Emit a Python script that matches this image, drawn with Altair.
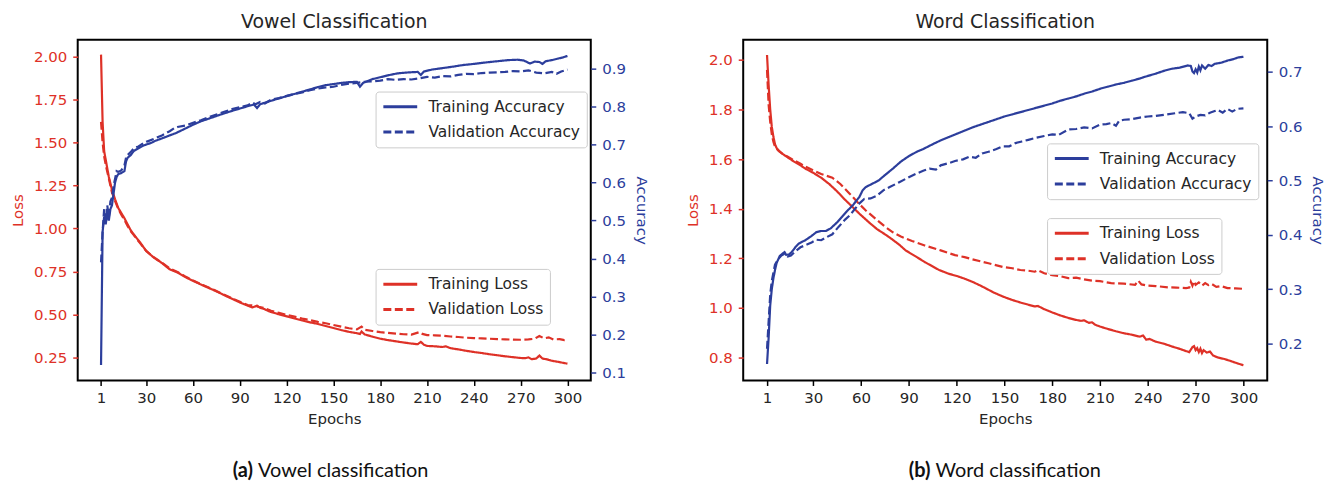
import altair as alt
import pandas as pd

RED = "#de3127"
BLUE = "#2c3e9c"
FONT = "DejaVu Sans"
TXT = "#262626"

EPOCH_TICKS = [1, 30, 60, 90, 120, 150, 180, 210, 240, 270, 300]

# ---------------- Vowel classification ----------------
v_tl_ep = [1, 2, 3, 4, 5, 6, 8, 10, 12, 14, 16, 18, 20, 23, 26, 30, 35, 40, 45, 50, 55, 60, 65, 70, 75, 80, 85, 90, 95, 98, 100, 101, 103, 105, 108, 110, 115, 120, 125, 130, 135, 140, 145, 150, 155, 160, 165, 167, 168, 170, 175, 180, 185, 190, 195, 200, 204, 206, 208, 210, 215, 220, 222, 225, 230, 235, 240, 245, 250, 255, 260, 265, 270, 273, 275, 277, 280, 282, 284, 287, 290, 295, 300]
v_tl = [2.01, 1.62, 1.45, 1.40, 1.35, 1.30, 1.225, 1.17, 1.12, 1.09, 1.06, 1.025, 0.99, 0.954, 0.92, 0.869, 0.83, 0.80, 0.763, 0.745, 0.718, 0.696, 0.675, 0.655, 0.635, 0.613, 0.592, 0.571, 0.552, 0.542, 0.548, 0.552, 0.540, 0.535, 0.522, 0.515, 0.502, 0.49, 0.478, 0.466, 0.455, 0.446, 0.434, 0.422, 0.41, 0.40, 0.392, 0.388, 0.402, 0.385, 0.372, 0.36, 0.352, 0.345, 0.338, 0.332, 0.328, 0.342, 0.325, 0.318, 0.316, 0.312, 0.316, 0.305, 0.298, 0.29, 0.283, 0.277, 0.27, 0.264, 0.258, 0.253, 0.248, 0.247, 0.252, 0.241, 0.245, 0.262, 0.245, 0.24, 0.232, 0.224, 0.215]

v_vl_ep = [1, 2, 3, 4, 5, 6, 8, 10, 12, 14, 16, 18, 20, 23, 26, 30, 35, 40, 45, 50, 55, 60, 65, 70, 75, 80, 85, 90, 95, 100, 102, 105, 110, 115, 120, 125, 130, 135, 140, 145, 150, 155, 160, 165, 168, 170, 175, 180, 185, 190, 195, 200, 205, 207, 210, 215, 220, 225, 230, 235, 240, 245, 250, 255, 260, 265, 270, 275, 279, 282, 285, 288, 291, 295, 298, 300]
v_vl = [1.62, 1.50, 1.42, 1.37, 1.33, 1.29, 1.21, 1.16, 1.115, 1.08, 1.05, 1.015, 0.985, 0.95, 0.915, 0.87, 0.832, 0.802, 0.768, 0.748, 0.722, 0.698, 0.677, 0.657, 0.637, 0.615, 0.595, 0.575, 0.556, 0.552, 0.545, 0.54, 0.522, 0.51, 0.499, 0.488, 0.477, 0.468, 0.458, 0.45, 0.44, 0.43, 0.421, 0.414, 0.43, 0.412, 0.405, 0.398, 0.394, 0.39, 0.386, 0.384, 0.398, 0.388, 0.381, 0.38, 0.377, 0.373, 0.37, 0.366, 0.364, 0.362, 0.36, 0.358, 0.356, 0.355, 0.354, 0.356, 0.36, 0.376, 0.362, 0.368, 0.356, 0.358, 0.352, 0.354]

v_ta_ep = [1, 2, 3, 4, 5, 6, 7, 8, 9, 10, 11, 12, 14, 16, 17, 18, 20, 22, 25, 28, 30, 33, 36, 40, 45, 49, 55, 60, 65, 70, 75, 80, 87, 92, 96, 99, 101, 103, 106, 110, 114, 119, 125, 130, 135, 140, 145, 150, 155, 160, 165, 167, 169, 175, 180, 185, 191, 196, 200, 204, 206, 208, 213, 220, 227, 233, 240, 248, 255, 262, 268, 272, 276, 279, 282, 284, 286, 290, 294, 297, 300]
v_ta = [0.12, 0.47, 0.51, 0.49, 0.52, 0.50, 0.53, 0.54, 0.57, 0.60, 0.615, 0.622, 0.625, 0.63, 0.655, 0.665, 0.672, 0.683, 0.69, 0.697, 0.70, 0.704, 0.71, 0.716, 0.724, 0.73, 0.742, 0.752, 0.761, 0.768, 0.775, 0.782, 0.791, 0.797, 0.802, 0.805, 0.796, 0.806, 0.81, 0.815, 0.82, 0.826, 0.833, 0.839, 0.845, 0.851, 0.856, 0.859, 0.862, 0.864, 0.865, 0.852, 0.862, 0.872, 0.877, 0.882, 0.887, 0.889, 0.89, 0.891, 0.883, 0.892, 0.897, 0.901, 0.905, 0.909, 0.912, 0.916, 0.919, 0.922, 0.923, 0.921, 0.913, 0.918, 0.917, 0.912, 0.919, 0.922, 0.926, 0.929, 0.933]

v_va_ep = [1, 2, 3, 4, 5, 6, 7, 8, 9, 10, 11, 12, 14, 16, 17, 18, 20, 22, 25, 28, 30, 35, 40, 45, 48, 50, 55, 60, 65, 70, 75, 80, 85, 90, 95, 98, 100, 103, 106, 110, 115, 120, 125, 130, 135, 140, 145, 150, 155, 160, 165, 170, 175, 180, 185, 190, 195, 200, 205, 210, 215, 220, 225, 230, 235, 240, 245, 250, 255, 260, 265, 270, 275, 280, 285, 290, 293, 296, 300]
v_va = [0.39, 0.47, 0.53, 0.50, 0.54, 0.51, 0.55, 0.56, 0.59, 0.61, 0.63, 0.628, 0.632, 0.645, 0.665, 0.672, 0.68, 0.69, 0.695, 0.703, 0.707, 0.715, 0.724, 0.735, 0.743, 0.746, 0.75, 0.757, 0.764, 0.772, 0.779, 0.786, 0.793, 0.798, 0.803, 0.81, 0.806, 0.812, 0.808, 0.818, 0.822, 0.828, 0.833, 0.837, 0.843, 0.847, 0.85, 0.852, 0.857, 0.86, 0.862, 0.865, 0.866, 0.868, 0.872, 0.87, 0.872, 0.871, 0.874, 0.878, 0.876, 0.88, 0.879, 0.883, 0.886, 0.885, 0.888, 0.889, 0.89, 0.891, 0.893, 0.892, 0.895, 0.889, 0.887, 0.891, 0.886, 0.892, 0.897]

# ---------------- Word classification ----------------
w_tl_ep = [1, 2, 3, 4, 5, 6, 7, 9, 11, 14, 18, 22, 25, 30, 35, 40, 45, 50, 55, 59, 65, 70, 75, 78, 84, 88, 95, 100, 109, 115, 121, 125, 130, 135, 138, 143, 149, 155, 160, 165, 169, 171, 175, 180, 185, 190, 194, 198, 200, 203, 205, 207, 210, 215, 220, 225, 230, 235, 237, 239, 241, 245, 250, 255, 260, 264, 266, 268, 269, 270, 271, 272, 273, 274, 275, 277, 279, 281, 284, 288, 292, 296, 300]
w_tl = [2.02, 1.90, 1.80, 1.73, 1.69, 1.66, 1.645, 1.63, 1.62, 1.607, 1.59, 1.575, 1.562, 1.545, 1.525, 1.50, 1.47, 1.436, 1.405, 1.38, 1.345, 1.318, 1.297, 1.284, 1.255, 1.232, 1.205, 1.185, 1.153, 1.138, 1.127, 1.118, 1.105, 1.09, 1.08, 1.063, 1.046, 1.032, 1.022, 1.013, 1.006, 1.008, 0.995, 0.982, 0.97, 0.96, 0.953, 0.948, 0.95, 0.94, 0.942, 0.932, 0.925, 0.915, 0.906, 0.898, 0.892, 0.884, 0.889, 0.872, 0.875, 0.864, 0.856, 0.845, 0.835, 0.826, 0.822, 0.842, 0.846, 0.83, 0.838, 0.822, 0.836, 0.818, 0.83, 0.82, 0.824, 0.808, 0.80, 0.794, 0.786, 0.777, 0.769]

w_vl_ep = [1, 2, 3, 4, 5, 6, 8, 10, 14, 18, 22, 25, 30, 35, 42, 47, 53, 58, 63, 70, 75, 80, 85, 92, 100, 110, 119, 125, 130, 140, 149, 155, 160, 165, 169, 171, 175, 180, 185, 190, 195, 200, 205, 210, 217, 225, 232, 234, 236, 240, 245, 253, 258, 264, 266, 267, 268, 269, 270, 272, 274, 276, 278, 280, 283, 286, 290, 295, 300]
w_vl = [1.96, 1.82, 1.75, 1.70, 1.67, 1.65, 1.635, 1.625, 1.61, 1.595, 1.582, 1.57, 1.555, 1.54, 1.525, 1.50, 1.46, 1.425, 1.393, 1.355, 1.328, 1.305, 1.288, 1.27, 1.252, 1.232, 1.213, 1.205, 1.196, 1.18, 1.165, 1.16, 1.153, 1.15, 1.146, 1.152, 1.14, 1.132, 1.128, 1.12, 1.122, 1.115, 1.11, 1.108, 1.10, 1.098, 1.093, 1.11, 1.095, 1.09, 1.088, 1.083, 1.082, 1.08, 1.082, 1.105, 1.09, 1.108, 1.093, 1.103, 1.09, 1.10, 1.092, 1.097, 1.085, 1.088, 1.08, 1.079, 1.077]

w_ta_ep = [1, 2, 3, 4, 5, 6, 7, 9, 11, 12, 13, 15, 17, 19, 21, 25, 29, 32, 35, 38, 41, 45, 48, 51, 55, 59, 61, 63, 67, 71, 75, 80, 85, 90, 95, 99, 105, 110, 115, 120, 125, 130, 135, 140, 145, 150, 155, 160, 165, 170, 175, 180, 185, 190, 195, 200, 205, 211, 215, 220, 225, 230, 235, 238, 245, 250, 255, 260, 265, 267, 268, 269, 270, 271, 272, 273, 274, 276, 278, 280, 282, 286, 290, 294, 297, 300]
w_ta = [0.162, 0.21, 0.27, 0.30, 0.32, 0.335, 0.348, 0.361, 0.366, 0.368, 0.363, 0.364, 0.37, 0.378, 0.384, 0.39, 0.398, 0.405, 0.407, 0.407, 0.412, 0.423, 0.433, 0.443, 0.455, 0.47, 0.482, 0.488, 0.494, 0.50, 0.51, 0.522, 0.535, 0.545, 0.553, 0.558, 0.567, 0.574, 0.58, 0.586, 0.592, 0.598, 0.603, 0.608, 0.613, 0.618, 0.622, 0.626, 0.63, 0.634, 0.638, 0.642, 0.647, 0.651, 0.655, 0.66, 0.664, 0.67, 0.673, 0.677, 0.68, 0.684, 0.688, 0.691, 0.697, 0.702, 0.706, 0.708, 0.712, 0.711, 0.701, 0.698, 0.705, 0.699, 0.71, 0.703, 0.712, 0.706, 0.713, 0.711, 0.715, 0.717, 0.721, 0.724, 0.727, 0.728]

w_va_ep = [1, 2, 3, 4, 5, 6, 8, 10, 12, 14, 16, 19, 22, 26, 29, 32, 35, 38, 42, 46, 50, 53, 56, 59, 62, 66, 70, 74, 78, 84, 90, 95, 99, 103, 107, 110, 115, 119, 124, 128, 132, 136, 140, 145, 149, 153, 157, 161, 165, 170, 175, 180, 184, 190, 195, 200, 205, 210, 214, 217, 220, 222, 225, 230, 235, 240, 245, 250, 257, 262, 266, 268, 270, 273, 276, 279, 282, 284, 287, 290, 293, 296, 300]
w_va = [0.19, 0.24, 0.29, 0.315, 0.33, 0.345, 0.355, 0.362, 0.365, 0.36, 0.362, 0.37, 0.377, 0.382, 0.386, 0.391, 0.39, 0.395, 0.401, 0.415, 0.428, 0.436, 0.447, 0.458, 0.466, 0.467, 0.472, 0.482, 0.488, 0.497, 0.506, 0.513, 0.518, 0.522, 0.52, 0.528, 0.532, 0.536, 0.539, 0.544, 0.542, 0.55, 0.553, 0.558, 0.563, 0.563, 0.569, 0.572, 0.575, 0.579, 0.582, 0.585, 0.584, 0.594, 0.595, 0.598, 0.596, 0.603, 0.604, 0.606, 0.601, 0.61, 0.612, 0.613, 0.616, 0.618, 0.619, 0.621, 0.624, 0.626, 0.624, 0.614, 0.618, 0.621, 0.62, 0.625, 0.628, 0.63, 0.625, 0.632, 0.627, 0.632, 0.633]

VOWEL_LOSS_TICKS = [0.25, 0.50, 0.75, 1.00, 1.25, 1.50, 1.75, 2.00]
VOWEL_ACC_TICKS = [0.1, 0.2, 0.3, 0.4, 0.5, 0.6, 0.7, 0.8, 0.9]
WORD_LOSS_TICKS = [0.8, 1.0, 1.2, 1.4, 1.6, 1.8, 2.0]
WORD_ACC_TICKS = [0.2, 0.3, 0.4, 0.5, 0.6, 0.7]

ACC_NAMES = ["Training Accuracy", "Validation Accuracy"]
LOSS_NAMES = ["Training Loss", "Validation Loss"]


def long_df(series):
    rows = []
    for name, eps, vals in series:
        for e, v in zip(eps, vals):
            rows.append({"epoch": e, "value": v, "series": name})
    return pd.DataFrame(rows)


def make_legend(x, y):
    return alt.Legend(
        title=None, orient="none", legendX=x, legendY=y,
        labelFont=FONT, labelFontSize=15.5, labelColor=TXT,
        symbolType="M-1,0H3.53", symbolSize=225, symbolStrokeWidth=3,
        labelOffset=28.7, rowPadding=7.4, padding=6.3,
        strokeColor="#cccccc", fillColor="white", cornerRadius=3,
    )


def panel(title, caption_tag, caption_text, cap_x, w, h,
          loss_series, acc_series, loss_dom, loss_ticks, loss_fmt,
          acc_dom, acc_ticks, acc_leg, loss_leg):
    x_enc = alt.X(
        "epoch:Q",
        scale=alt.Scale(domain=[-13.95, 314.95], nice=False, zero=False),
        axis=alt.Axis(values=EPOCH_TICKS, title="Epochs", labelFont=FONT,
                      labelFontSize=15, labelColor=TXT, titleFont=FONT,
                      titleFontSize=15, titleFontWeight="normal", titleColor=TXT,
                      tickSize=5, tickWidth=1.5, tickColor="black",
                      labelPadding=5, titlePadding=6, domain=False, grid=False),
    )
    loss = alt.Chart(long_df(loss_series)).mark_line(strokeWidth=2.2).encode(
        x=x_enc,
        y=alt.Y("value:Q",
                scale=alt.Scale(domain=loss_dom, nice=False, zero=False),
                axis=alt.Axis(orient="left", title="Loss", values=loss_ticks,
                              format=loss_fmt, labelFont=FONT, labelFontSize=15,
                              labelColor=RED, titleFont=FONT, titleFontSize=15,
                              titleFontWeight="normal", titleColor=RED,
                              tickColor=RED, tickSize=5, tickWidth=1.5,
                              labelPadding=6, titlePadding=8, domain=False,
                              grid=False)),
        color=alt.Color("series:N",
                        scale=alt.Scale(domain=LOSS_NAMES, range=[RED, RED]),
                        legend=make_legend(*loss_leg)),
        strokeDash=alt.StrokeDash("series:N",
                                  scale=alt.Scale(domain=LOSS_NAMES, range=[[1, 0], [8, 3.5]]),
                                  legend=make_legend(*loss_leg)),
    )
    acc = alt.Chart(long_df(acc_series)).mark_line(strokeWidth=2.2).encode(
        x=x_enc,
        y=alt.Y("value:Q",
                scale=alt.Scale(domain=acc_dom, nice=False, zero=False),
                axis=alt.Axis(orient="right", title="Accuracy", values=acc_ticks,
                              format=".1f", labelFont=FONT, labelFontSize=15,
                              labelColor=BLUE, titleFont=FONT, titleFontSize=15,
                              titleFontWeight="normal", titleColor=BLUE,
                              tickColor=BLUE, tickSize=5, tickWidth=1.5,
                              labelPadding=6, titlePadding=8, domain=False,
                              grid=False)),
        color=alt.Color("series:N",
                        scale=alt.Scale(domain=ACC_NAMES, range=[BLUE, BLUE]),
                        legend=make_legend(*acc_leg)),
        strokeDash=alt.StrokeDash("series:N",
                                  scale=alt.Scale(domain=ACC_NAMES, range=[[1, 0], [8, 3.5]]),
                                  legend=make_legend(*acc_leg)),
    )
    cap_df = pd.DataFrame({"tag": [caption_tag], "text": [caption_text]})
    cap_tag = alt.Chart(cap_df).mark_text(
        font="Lato", fontSize=20, fontWeight="bold", align="right",
        baseline="alphabetic", color="#111111"
    ).encode(x=alt.value(cap_x), y=alt.value(h + 97), text="tag:N")
    cap_txt = alt.Chart(cap_df).mark_text(
        font="Lato", fontSize=20, align="left",
        baseline="alphabetic", color="#111111"
    ).encode(x=alt.value(cap_x + 5), y=alt.value(h + 97), text="text:N")

    return alt.layer(loss, acc, cap_tag, cap_txt).resolve_scale(
        y="independent", color="independent", strokeDash="independent"
    ).resolve_legend(color="independent", strokeDash="independent").properties(
        width=w, height=h,
        title=alt.TitleParams(title, font=FONT, fontSize=19, fontWeight="normal",
                              color=TXT, offset=8),
    )


vowel = panel(
    "Vowel Classification", "(a)", "Vowel classification", 176, 515, 342,
    [("Training Loss", v_tl_ep, v_tl), ("Validation Loss", v_vl_ep, v_vl)],
    [("Training Accuracy", v_ta_ep, v_ta), ("Validation Accuracy", v_va_ep, v_va)],
    [0.1175, 2.0965], VOWEL_LOSS_TICKS, ".2f",
    [0.0795, 0.9755], VOWEL_ACC_TICKS,
    (299, 52), (299, 230),
)

word = panel(
    "Word Classification", "(b)", "Word classification", 188, 526, 342,
    [("Training Loss", w_tl_ep, w_tl), ("Validation Loss", w_vl_ep, w_vl)],
    [("Training Accuracy", w_ta_ep, w_ta), ("Validation Accuracy", w_va_ep, w_va)],
    [0.7075, 2.0815], WORD_LOSS_TICKS, ".1f",
    [0.1316, 0.7594], WORD_ACC_TICKS,
    (305, 104), (305, 179),
)

chart = alt.hconcat(vowel, word, spacing=35).properties(
    padding={"left": 9, "top": 11, "right": 5, "bottom": 0},
    background="white",
).configure_view(stroke="black", strokeWidth=2)

chart.save("out.html", embed_options={"renderer": "svg", "actions": False})
